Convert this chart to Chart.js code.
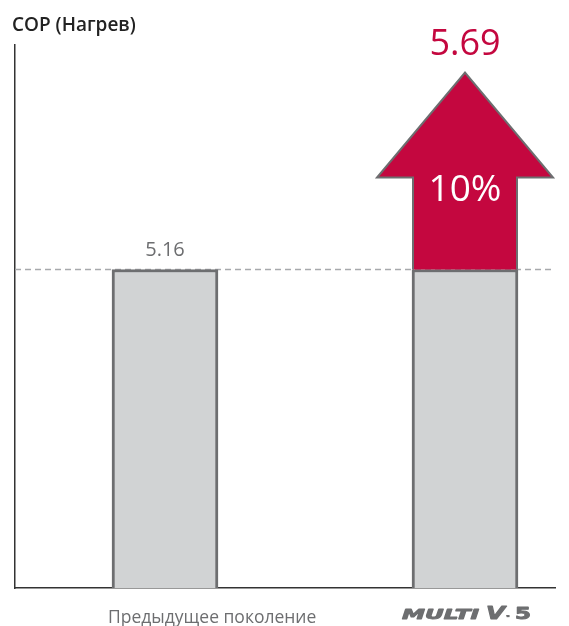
<!DOCTYPE html>
<html>
<head>
<meta charset="utf-8">
<script src="https://cdn.jsdelivr.net/npm/chart.js@4/dist/chart.umd.min.js"></script>
<style>
  html, body { margin: 0; padding: 0; background: #fff; overflow: hidden; }
  #wrap { width: 569px; height: 626px; position: relative; }
</style>
</head>
<body>
<div id="wrap"><canvas id="chart"></canvas></div>
<script>
const categories = ["Предыдущее поколение", "MULTI V 5"];
const copValues = [5.16, 5.69];
const gainLabel = "10%";
const titleText = "COP (Нагрев)";
// both bars share the grey base of the older model; the gain is shown as the red arrow
const baseValues = categories.map(() => copValues[0]);
const slots = [1, 2];

const grey = "#6d6e70";
const red = "#c4073f";

// draws text stretched to a given width (used for the wide, heavy logo lettering)
function wideText(ctx, text, font, x, y, width) {
  ctx.save();
  ctx.font = font;
  const w = ctx.measureText(text).width;
  ctx.translate(x, y);
  ctx.scale(width / w, 1);
  ctx.textAlign = "left";
  ctx.lineWidth = 0.9;
  ctx.lineJoin = "round";
  ctx.strokeText(text, 0, 0);
  ctx.fillText(text, 0, 0);
  ctx.restore();
}

const overlay = {
  id: "overlay",
  beforeDatasetsDraw(chart) {
    const { ctx, chartArea, scales } = chart;
    const y = scales.y.getPixelForValue(copValues[0]);
    ctx.save();
    ctx.strokeStyle = "#a7a9ac";
    ctx.lineWidth = 1.5;
    ctx.setLineDash([6, 4]);
    ctx.beginPath();
    ctx.moveTo(chartArea.left, y);
    ctx.lineTo(chartArea.right, y);
    ctx.stroke();
    ctx.restore();
  },
  afterDatasetsDraw(chart) {
    const { ctx } = chart;
    const bars = chart.getDatasetMeta(0).data;
    const b1 = bars[0], b2 = bars[1];
    const half = b2.width / 2;
    const baseY = b2.y;
    const headY = baseY - 92;
    const tipY = baseY - 197;
    const wing = 88;

    ctx.save();
    ctx.beginPath();
    ctx.moveTo(b2.x - half + 1, baseY);
    ctx.lineTo(b2.x - half + 1, headY);
    ctx.lineTo(b2.x - wing, headY);
    ctx.lineTo(b2.x, tipY);
    ctx.lineTo(b2.x + wing, headY);
    ctx.lineTo(b2.x + half - 1, headY);
    ctx.lineTo(b2.x + half - 1, baseY);
    ctx.fillStyle = red;
    ctx.fill();
    ctx.strokeStyle = grey;
    ctx.lineWidth = 2;
    ctx.lineJoin = "miter";
    ctx.stroke();

    ctx.textAlign = "center";
    ctx.textBaseline = "alphabetic";
    ctx.fillStyle = "#fff";
    ctx.font = "37px 'Open Sans'";
    ctx.fillText(gainLabel, b2.x, headY + 24);

    ctx.fillStyle = red;
    ctx.font = "36px 'Open Sans'";
    ctx.fillText(copValues[1].toFixed(2), b2.x, tipY - 17);

    ctx.fillStyle = grey;
    ctx.font = "20px 'Open Sans'";
    ctx.fillText(copValues[0].toFixed(2), b1.x, b1.y - 13);

    // category labels
    ctx.textAlign = "left";
    ctx.font = "17.5px 'Open Sans'";
    ctx.fillText(categories[0], b1.x - b1.width / 2 - 4, 623);

    // "MULTI V 5" in the wide heavy italic of the logo
    const lx = b2.x - 63;
    ctx.strokeStyle = grey;
    wideText(ctx, "MULTI", "italic bold 14px 'DejaVu Sans'", lx, 619, 77);
    wideText(ctx, "V", "italic bold 17px 'DejaVu Sans'", lx + 84, 619, 19);
    wideText(ctx, "™", "bold 5px 'DejaVu Sans'", lx + 104, 619, 4);
    wideText(ctx, "5", "bold 15px 'DejaVu Sans'", lx + 113, 619, 16);
    ctx.restore();
  }
};

new Chart(document.getElementById("chart"), {
  type: "bar",
  data: {
    datasets: [{
      data: slots.map((s, i) => ({ x: s, y: baseValues[i] })),
      backgroundColor: "#d1d3d4",
      borderColor: grey,
      borderWidth: 3,
      barThickness: 106
    }]
  },
  options: {
    responsive: true,
    maintainAspectRatio: false,
    animation: false,
    layout: { padding: { left: 12, right: 14, bottom: 38, top: 0 } },
    plugins: {
      legend: { display: false },
      tooltip: { enabled: false },
      title: {
        display: true,
        text: titleText,
        align: "start",
        color: "#222",
        font: { family: "'Open Sans'", size: 19, weight: "600" },
        padding: { top: 14, bottom: 8 }
      }
    },
    scales: {
      x: {
        type: "linear",
        offset: false,
        min: 0.5,
        max: 2.3,
        ticks: { display: false },
        grid: { display: false },
        border: { color: "#333", width: 1.5 },
        afterFit: (s) => { s.height = 0; }
      },
      y: {
        min: 0,
        max: 8.8,
        ticks: { display: false },
        grid: { display: false },
        border: { color: "#333", width: 1.5 },
        afterFit: (s) => { s.width = 3; }
      }
    }
  },
  plugins: [overlay]
});
</script>
</body>
</html>
